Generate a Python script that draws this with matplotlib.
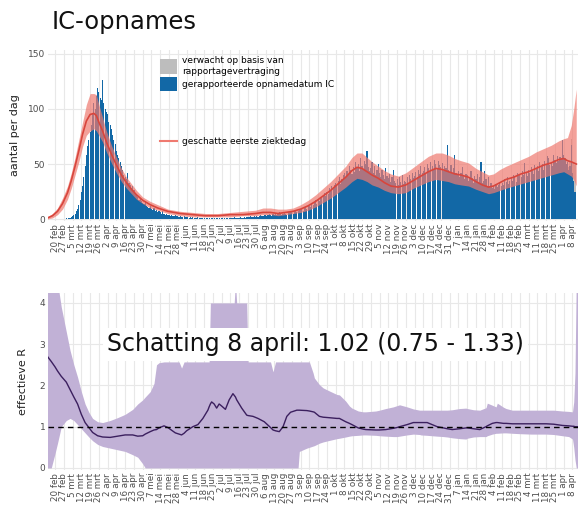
import matplotlib
matplotlib.use("Agg")
import matplotlib.pyplot as plt
import numpy as np
from matplotlib.patches import Patch
from matplotlib.lines import Line2D

# ---------------- data ----------------
# day offsets are counted from 20 feb 2020
tick_labels = ["20 feb","27 feb","5 mrt","12 mrt","19 mrt","26 mrt","2 apr","9 apr","16 apr","23 apr",
               "30 apr","7 mei","14 mei","21 mei","28 mei","4 jun","11 jun","18 jun","25 jun","2 jul",
               "9 jul","16 jul","23 jul","30 jul","6 aug","13 aug","20 aug","27 aug","3 sep","10 sep",
               "17 sep","24 sep","1 okt","8 okt","15 okt","22 okt","29 okt","5 nov","12 nov","19 nov",
               "26 nov","3 dec","10 dec","17 dec","24 dec","31 dec","7 jan","14 jan","21 jan","28 jan",
               "4 feb","11 feb","18 feb","25 feb","4 mrt","11 mrt","18 mrt","25 mrt","1 apr","8 apr"]

# reported IC admissions per day (admission date), starting 20 feb 2020
reported = [
    0,0,0,0,0,0,0,        0,0,1,0,1,1,2,        3,4,5,7,9,13,17,      25,30,38,48,58,66,72,
    79,85,95,105,100,112,119, 115,110,108,126,105,100,97, 95,88,85,82,76,72,68, 62,58,55,52,48,45,40,
    38,36,42,33,31,28,30, 26,24,22,20,17,19,16, 15,14,16,12,11,10,12, 9,8,10,7,8,6,7,
    6,5,7,5,4,5,4,        4,3,4,3,3,4,3,        3,2,3,2,2,3,2,        2,2,1,2,1,2,1,
    1,1,2,1,1,1,1,        1,0,1,1,1,0,1,        1,1,0,1,1,1,0,        1,1,1,0,1,1,1,
    1,1,1,2,1,1,1,        1,2,1,1,2,1,2,        2,2,3,2,2,3,2,        3,2,3,4,3,3,4,
    4,3,4,5,4,3,5,        4,5,4,5,6,5,4,        5,6,5,4,6,7,6,        6,5,7,8,6,7,8,
    8,9,7,10,11,9,12,     12,11,14,13,15,17,14, 18,16,20,19,22,24,21, 25,23,28,26,30,27,31,
    33,30,35,38,32,36,40, 42,38,44,40,48,45,41, 47,43,52,46,50,44,55, 48,45,53,50,62,47,44,
    46,52,42,48,40,45,50, 42,38,45,40,36,46,39, 37,41,34,38,45,35,33, 36,31,38,34,40,32,35,
    34,38,33,40,36,42,37, 39,43,38,45,41,48,42, 44,47,41,50,46,43,52, 48,45,54,50,46,53,49,
    47,51,44,48,46,67,45, 43,49,41,46,58,42,40, 44,38,42,47,39,36,41, 40,35,38,44,37,33,39,
    36,41,34,38,52,33,35, 44,36,30,38,29,33,28, 30,27,32,29,31,34,30, 33,31,36,34,38,32,35,
    37,35,40,38,34,42,39, 41,38,44,40,51,43,39, 45,42,47,44,41,49,46, 48,44,52,47,50,45,53,
    50,57,55,49,52,48,58, 54,51,57,53,56,55,72, 58,55,50,52,45,48,67, 42,35,25,
]
# expected extra admissions (reporting delay) for the last days
expected_day = [410, 411, 412, 413, 414, 415]
expected_extra = [2, 4, 6, 10, 16, 24]

# estimated first day of illness (line + band)
onset_day = [-6,-2,2,6,10,13,16,19,22,25,28,31,33,35,38,41,45,49,53,57,61,65,70,76,82,90,100,110,120,130,
             140,150,160,166,172,178,184,190,196,202,208,214,220,226,232,237,241,245,249,253,258,263,268,274,
             280,286,292,298,304,309,314,319,324,330,336,341,346,350,355,360,366,372,378,384,390,396,402,406,
             409,412,414,416]
onset_mid = [1,3,7,14,24,35,48,62,77,89,95,96,94,88,80,70,59,49,40,33,27,22,17,13,10,7,5,4,3,3,
             4,4,5,6,6,5,6,7,9,12,16,21,26,32,38,44,47,46,43,40,37,33,30,29,
             31,35,39,43,46,45,43,41,40,38,34,31,29,30,33,36,38,41,43,46,49,51,54,55,
             53,52,51,50]
onset_lo = [0,1,4,9,18,28,40,52,66,76,80,82,80,76,70,61,51,42,34,28,23,18,14,10,8,5,3,2,2,2,
            2,3,3,4,4,3,4,5,6,8,11,15,19,24,29,34,37,36,34,31,29,26,24,23,
            24,28,31,34,36,35,34,32,31,30,27,25,23,24,26,28,30,32,34,36,38,40,42,43,
            41,39,36,30]
onset_hi = [2,5,10,19,30,42,56,72,88,104,114,114,113,104,92,80,67,56,46,38,32,26,20,16,13,9,7,6,5,5,
            6,7,8,10,10,9,9,10,13,17,22,28,34,41,48,56,60,60,56,52,48,44,41,39,
            42,47,52,57,60,60,58,55,53,51,46,43,40,41,45,48,51,54,57,61,64,67,71,73,
            74,85,100,118]

# effective R (line + band)
r_day = [-6,-3,0,2,5,9,12,15,18,21,24,27,30,34,38,44,50,56,62,66,70,72,76,79,81,83,87,90,96,99,101,103,
         105,110,114,118,122,123,124,125,127,129,131,133,136,139,142,143,144,145,149,153,154,158,162,167,
         172,174,176,179,182,185,188,193,194,195,201,203,206,207,211,214,218,225,227,232,235,237,242,246,248,
         256,259,264,270,273,275,281,286,291,292,297,301,305,310,313,317,323,328,329,334,339,344,345,349,352,
         353,358,360,365,371,380,392,398,405,410,413,414,415,416,417]
r_mid = [2.70,2.58,2.45,2.35,2.22,2.08,1.90,1.72,1.55,1.30,1.10,0.98,0.86,0.78,0.75,0.74,0.77,0.80,0.80,0.77,
         0.78,0.82,0.88,0.92,0.93,0.97,1.02,0.98,0.85,0.82,0.80,0.84,
         0.90,1.00,1.05,1.20,1.40,1.48,1.55,1.60,1.55,1.45,1.55,1.50,1.42,1.65,1.80,1.76,1.72,1.65,1.45,1.28,
         1.27,1.25,1.20,1.12,
         0.98,0.92,0.90,0.88,1.00,1.25,1.35,1.40,1.40,1.40,1.39,1.38,1.36,1.35,1.25,1.23,1.22,1.20,1.20,1.12,
         1.08,1.05,0.97,0.94,0.93,
         0.92,0.92,0.93,0.96,0.98,1.00,1.05,1.10,1.10,1.10,1.10,1.05,1.00,0.97,0.95,0.93,0.95,0.97,0.97,0.95,
         0.93,1.00,1.02,1.08,1.10,
         1.10,1.08,1.08,1.07,1.07,1.07,1.07,1.06,1.03,1.02,1.01,1.01,1.00,1.00,1.00]
r_lo = [0.00,0.00,0.35,0.60,1.00,1.15,1.20,1.15,1.05,0.95,0.85,0.75,0.66,0.57,0.52,0.48,0.44,0.40,0.32,0.26,
        0.10,0.00,0.00,0.00,0.00,0.00,0.00,0.00,0.00,0.00,0.00,0.00,
        0.00,0.00,0.00,0.00,0.00,0.00,0.00,0.00,0.00,0.00,0.00,0.00,0.00,0.00,0.00,0.00,0.00,0.00,0.00,0.00,
        0.00,0.00,0.00,0.00,
        0.00,0.00,0.00,0.00,0.00,0.00,0.00,0.00,0.00,0.40,0.48,0.50,0.53,0.54,0.60,0.63,0.66,0.71,0.72,0.75,
        0.77,0.78,0.79,0.80,0.80,
        0.79,0.78,0.77,0.76,0.76,0.77,0.80,0.82,0.81,0.80,0.79,0.78,0.77,0.76,0.75,0.73,0.71,0.70,0.72,0.75,
        0.76,0.76,0.78,0.82,0.84,
        0.84,0.85,0.85,0.84,0.83,0.82,0.82,0.81,0.78,0.76,0.70,0.50,0.20,0.00,0.00]
r_hi = [4.50,4.50,4.50,4.50,3.90,3.30,2.85,2.50,2.20,1.85,1.55,1.35,1.20,1.12,1.10,1.15,1.22,1.30,1.42,1.55,
        1.65,1.72,1.85,2.05,2.50,2.55,2.57,2.57,2.57,2.57,2.42,2.57,
        2.57,2.57,2.57,2.57,2.57,2.57,4.00,4.00,4.00,4.00,4.00,4.00,4.00,4.00,4.00,4.00,4.50,4.00,4.00,4.00,
        2.57,2.57,2.57,2.57,
        2.57,2.33,2.57,2.57,2.57,2.57,2.57,2.57,2.57,2.57,2.57,2.57,2.30,2.18,2.02,1.94,1.88,1.78,1.77,1.62,
        1.50,1.45,1.38,1.36,1.36,
        1.38,1.40,1.44,1.48,1.51,1.53,1.48,1.43,1.40,1.40,1.40,1.40,1.40,1.40,1.40,1.41,1.44,1.45,1.44,1.41,
        1.40,1.46,1.57,1.52,1.48,
        1.57,1.47,1.44,1.40,1.40,1.40,1.40,1.40,1.38,1.37,1.36,1.60,2.30,4.50,4.50]

r_today = "Schatting 8 april: 1.02 (0.75 - 1.33)"

# ---------------- styling ----------------
BLUE = "#1268a6"
GRAY = "#bdbdbd"
RED_LINE = "#d8453c"
RED_BAND = "#ef7a70"
PURPLE_BAND = "#c1b1d6"
PURPLE_LINE = "#3b1f5e"
GRID = "#e8e8e8"
TXT = "#4d4d4d"

fig = plt.figure(figsize=(5.82, 5.11), dpi=100)
ax1 = fig.add_axes([48/582, 1-221/511, 530/582, 171/511])
ax2 = fig.add_axes([48/582, 1-470/511, 530/582, 177/511])

xlim = (-5.6, 417.4)
ticks = [7*i for i in range(len(tick_labels))]

for ax in (ax1, ax2):
    ax.set_xlim(*xlim)
    ax.set_xticks(ticks)
    ax.set_xticklabels(tick_labels, rotation=90, fontsize=6.3, color=TXT)
    ax.tick_params(length=0, pad=2)
    ax.grid(True, color=GRID, linewidth=0.8)
    ax.set_axisbelow(True)
    for s in ax.spines.values():
        s.set_visible(False)
    ax.tick_params(axis='y', labelsize=6.5, labelcolor=TXT)

# top panel
days = np.arange(len(reported))
ax1.bar(days, reported, width=0.9, color=BLUE, linewidth=0, zorder=2)
exp_base = [reported[d] for d in expected_day]
ax1.bar(expected_day, expected_extra, bottom=exp_base, width=0.9, color=GRAY, linewidth=0, zorder=2)
ax1.fill_between(onset_day, onset_lo, onset_hi, color=RED_BAND, alpha=0.7, linewidth=0, zorder=3)
ax1.plot(onset_day, onset_mid, color=RED_LINE, linewidth=1.2, zorder=4)
ax1.set_ylim(-1.8, 153.6)
ax1.set_yticks([0, 50, 100, 150])
ax1.set_ylabel("aantal per dag", fontsize=8, color="#222222", labelpad=6)

leg1 = ax1.legend(handles=[Patch(facecolor=GRAY), Patch(facecolor=BLUE)],
                  labels=["verwacht op basis van\nrapportagevertraging", "gerapporteerde opnamedatum IC"],
                  loc="upper left", bbox_to_anchor=(0.205, 0.985), frameon=False, fontsize=6.5,
                  handlelength=1.8, handleheight=2.1, handletextpad=0.6, labelspacing=0.15,
                  borderaxespad=0)
ax1.add_artist(leg1)
ax1.legend(handles=[Line2D([0], [0], color=RED_BAND, linewidth=1.5)],
           labels=["geschatte eerste ziektedag"], loc="upper left", bbox_to_anchor=(0.205, 0.51),
           frameon=False, fontsize=6.5, handlelength=1.8, handletextpad=0.6, borderaxespad=0)

# bottom panel
ax2.fill_between(r_day, r_lo, r_hi, color=PURPLE_BAND, linewidth=0, zorder=2)
ax2.plot(r_day, r_mid, color=PURPLE_LINE, linewidth=1.0, zorder=3)
ax2.axhline(1, color="black", linestyle=(0, (4, 3)), linewidth=1.0, zorder=4)
ax2.set_ylim(-0.05, 4.24)
ax2.set_yticks([0, 1, 2, 3, 4])
ax2.set_ylabel("effectieve R", fontsize=8, color="#222222", labelpad=8)
ax2.text(0.505, 0.71, r_today, transform=ax2.transAxes, ha="center", va="center",
         fontsize=17, color="#111111", zorder=6,
         bbox=dict(facecolor="white", edgecolor="none", pad=3))

fig.text(52/582, 1-22/511, "IC-opnames", fontsize=17.5, ha="left", va="center", color="#111111")

fig.savefig("out.png", dpi=100)
